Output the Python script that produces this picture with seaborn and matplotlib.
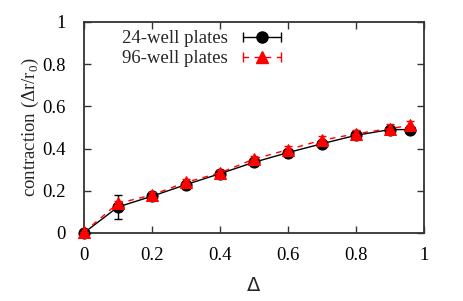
import matplotlib
matplotlib.use("Agg")
import matplotlib.pyplot as plt
from matplotlib.lines import Line2D
from matplotlib.legend_handler import HandlerLine2D, HandlerTuple
import seaborn as sns

# data
delta = [0.0, 0.1, 0.2, 0.3, 0.4, 0.5, 0.6, 0.7, 0.8, 0.9, 0.96]
well24 = [0.0, 0.123, 0.174, 0.229, 0.281, 0.335, 0.381, 0.423, 0.463, 0.49, 0.49]
well24_err = [0.0, 0.058, 0.01, 0.01, 0.01, 0.01, 0.01, 0.01, 0.01, 0.01, 0.01]
well96 = [0.003, 0.14, 0.18, 0.24, 0.285, 0.35, 0.395, 0.44, 0.47, 0.495, 0.51]
well96_err = [0.0, 0.01, 0.015, 0.015, 0.015, 0.015, 0.015, 0.02, 0.02, 0.02, 0.02]
xticks = [0, 0.2, 0.4, 0.6, 0.8, 1]
yticks = [0, 0.2, 0.4, 0.6, 0.8, 1]
tick_labels = ["0", "0.2", "0.4", "0.6", "0.8", "1"]

sns.set_style("ticks")
plt.rcParams["font.family"] = ["Liberation Serif", "DejaVu Serif"]
plt.rcParams["mathtext.fontset"] = "custom"
plt.rcParams["mathtext.rm"] = "Liberation Serif"

fig = plt.figure(figsize=(4.63, 3.01), dpi=100)
ax = fig.add_axes([0.181, 0.226, 0.735, 0.701])

ax.errorbar(delta, well24, yerr=well24_err, fmt="none", ecolor="black",
            elinewidth=1, capsize=3, capthick=1, zorder=2, clip_on=False)
sns.lineplot(x=delta, y=well24, ax=ax, color="black", linewidth=1,
             marker="o", markersize=8, markeredgecolor="black", zorder=3,
             clip_on=False)
ax.errorbar(delta, well96, yerr=well96_err, fmt="none", ecolor="red",
            elinewidth=1, capsize=3, capthick=1, linestyle="--", zorder=4,
            clip_on=False)
sns.lineplot(x=delta, y=well96, ax=ax, color="red", linewidth=1,
             linestyle=(0, (4, 4)), marker="^", markersize=8.5,
             markeredgecolor="red", zorder=5, clip_on=False)

ax.set_xlim(0, 1)
ax.set_ylim(0, 1)
ax.set_xticks(xticks)
ax.set_xticklabels(tick_labels)
ax.set_yticks(yticks)
ax.set_yticklabels(tick_labels)
ax.tick_params(direction="in", length=5, width=1, labelsize=13.5,
               top=True, right=True, colors="#333333", labelcolor="black")
ax.tick_params(axis="y", pad=13)
ax.tick_params(axis="x", pad=10)
for s in ax.spines.values():
    s.set_linewidth(1.3)
    s.set_color("#333333")

ax.set_xlabel("Δ", family="DejaVu Sans", fontsize=14, labelpad=9)
ax.set_ylabel(r"contraction (Δr/r$_\mathrm{0}$)", fontsize=13.5, labelpad=1)

# legend handles: caps at both ends, marker in the middle
caps24 = Line2D([], [], color="black", linewidth=1, marker="|", markersize=7)
mark24 = Line2D([], [], color="black", linestyle="none", marker="o", markersize=8)
caps96 = Line2D([], [], color="red", linewidth=1, linestyle=(0, (4, 4)),
                marker="|", markersize=7)
mark96 = Line2D([], [], color="red", linestyle="none", marker="^", markersize=8.5)
hmap = {
    caps24: HandlerLine2D(numpoints=2), caps96: HandlerLine2D(numpoints=2),
    mark24: HandlerLine2D(numpoints=1), mark96: HandlerLine2D(numpoints=1),
}
hmap[tuple] = HandlerTuple(ndivide=1)
fig.legend([(caps24, mark24), (caps96, mark96)],
           ["24-well plates", "96-well plates"],
           handler_map=hmap, loc="upper right",
           bbox_to_anchor=(0.618, 0.9), frameon=False, markerfirst=False,
           fontsize=13.5, handlelength=2.6, handletextpad=0.5,
           labelspacing=0.15, borderpad=0, borderaxespad=0)

plt.savefig("out.png", dpi=100)
plt.close()
